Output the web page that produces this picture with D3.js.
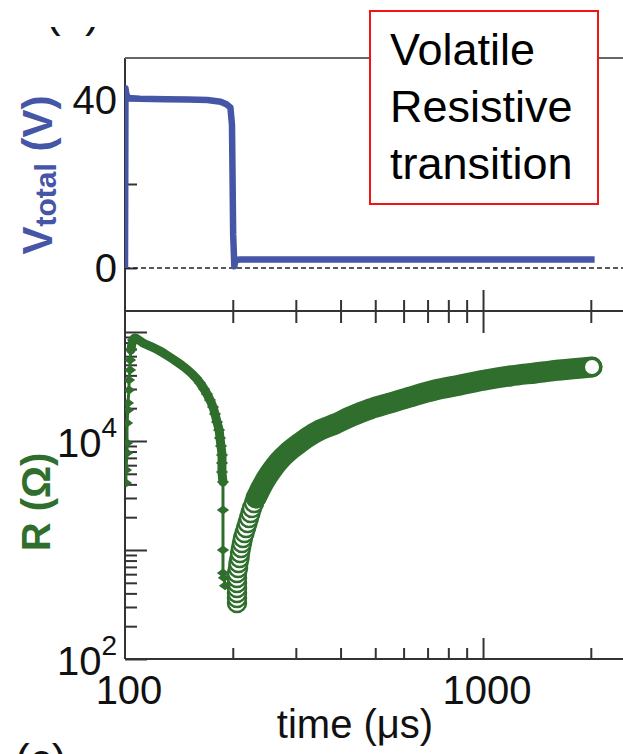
<!DOCTYPE html>
<html>
<head>
<meta charset="utf-8">
<script src="https://cdn.jsdelivr.net/npm/d3@7"></script>
<style>
body { margin: 0; background: #fff; }
svg { display: block; }
text { font-family: "Liberation Sans", Arial, sans-serif; }
</style>
</head>
<body>
<svg></svg>
<script>
// top panel: applied voltage vs time (us)
var vTime = [100, 100.3, 100.8, 102, 110, 130, 150, 170, 185, 192, 197, 199, 200.5, 202, 203.5, 210, 300, 600, 1000, 1500, 2050]
var vVolt = [0, 42.8, 41.5, 40.5, 40.3, 40.2, 40.1, 40, 39.6, 39, 38.2, 34, 8, 0.4, 1.9, 2, 2, 2, 2, 2, 2]

// bottom panel: resistance while pulse is on (filled diamonds)
var decTime = [100.6, 100.6, 101.3, 101.3, 101.3, 101.9, 101.9, 102.6, 102.6, 103.3, 103.3, 103.9, 105.3, 106.6, 112.3, 119.0, 125.2, 131.9, 139.8, 146.2, 151.9, 157.9, 162.0, 166.2, 169.4, 172.7, 176.1, 178.4, 180.7, 183.1, 184.2, 185.4, 186.6, 186.6, 186.6, 187.8, 187.8, 187.8, 187.8, 189.0, 190.3]
var decR = [4119, 5419, 7761, 9587, 14630, 19250, 22320, 29370, 36270, 44810, 55360, 68370, 84470, 88100, 79300, 72870, 66930, 60220, 53060, 47740, 42950, 37840, 34060, 30000, 27000, 23780, 20500, 17690, 14940, 12620, 10660, 9000, 7440, 6282, 5195, 4206, 2328, 1000, 615, 555, 470]

// bottom panel: resistance recovery after the pulse (open circles)
var recTime = [205.5, 205.5, 205.5, 205.5, 205.5, 205.5, 205.5, 206.9, 207.5, 208.9, 209.6, 210.9, 212.2, 213.6, 215.7, 217.8, 219.9, 222.0, 224.2, 226.3, 229.3, 232.2, 236.0, 239.8, 247.6, 257.4, 269.3, 283.5, 302.3, 324.5, 350.5, 386.0, 425.1, 483.5, 549.9, 625.4, 734.5, 862.6, 1013, 1190, 1397, 1641, 2016]
var recR = [326.5, 362.7, 403.2, 448.2, 498.1, 553.5, 615.2, 683.8, 759.7, 844.5, 938.6, 1043, 1159, 1289, 1432, 1591, 1769, 1966, 2185, 2428, 2700, 3000, 3334, 3706, 4481, 5419, 6553, 7761, 9190, 10880, 12620, 14320, 16610, 19660, 22320, 25340, 29370, 32640, 36270, 39470, 42060, 44810, 47740]

var xMajor = [100, 1000]
var xMinor = [200, 300, 400, 500, 600, 700, 800, 900, 2000]
var vTicks = [0, 20, 40]
var vLabels = [0, 40]
var rMajor = [1e2, 1e3, 1e4, 1e5]
var rLabelExp = [2, 4]
var boxLines = ["Volatile", "Resistive", "transition"]

var blue = "#4656a6"
var green = "#2f6e2c"
var axisColor = "#333"

var dims = { width: 623, height: 754, left: 125, right: 625.5, top: 58, mid: 311, bottom: 659 }

var svg = d3.select("svg")
            .attr("width", dims.width)
            .attr("height", dims.height)

var x = d3.scaleLog().domain([100, 2500]).range([dims.left, dims.right])
var yV = d3.scaleLinear().domain([-10.24, 50]).range([dims.mid, dims.top])
var yR = d3.scaleLog().domain([100, 155800]).range([dims.bottom, dims.mid])

// clip for the plotting area
svg.append("clipPath").attr("id", "plotclip")
   .append("rect").attr("x", dims.left).attr("y", dims.top)
   .attr("width", dims.right - dims.left).attr("height", dims.bottom - dims.top)

function tickStyle(g) {
    g.select(".domain").remove()
    g.selectAll("line").attr("stroke", axisColor).attr("stroke-width", 2)
}

// x ticks on the bottom axis (pointing up) and across the middle line
svg.append("g").attr("transform", "translate(0," + dims.bottom + ")")
   .call(d3.axisTop(x).tickValues(xMinor).tickSize(11).tickFormat("")).call(tickStyle)
svg.append("g").attr("transform", "translate(0," + dims.bottom + ")")
   .call(d3.axisTop(x).tickValues([1000]).tickSize(21).tickFormat("")).call(tickStyle)
svg.append("g").attr("transform", "translate(0," + dims.mid + ")")
   .call(d3.axisTop(x).tickValues(xMinor).tickSize(11).tickFormat("")).call(tickStyle)
svg.append("g").attr("transform", "translate(0," + dims.mid + ")")
   .call(d3.axisBottom(x).tickValues(xMinor).tickSize(12).tickFormat("")).call(tickStyle)
svg.append("g").attr("transform", "translate(0," + dims.mid + ")")
   .call(d3.axisTop(x).tickValues([1000]).tickSize(21).tickFormat("")).call(tickStyle)
svg.append("g").attr("transform", "translate(0," + dims.mid + ")")
   .call(d3.axisBottom(x).tickValues([1000]).tickSize(22).tickFormat("")).call(tickStyle)

// x tick labels
svg.selectAll(".xlab").data(xMajor).enter().append("text")
   .attr("x", d => x(d) + 4).attr("y", 704)
   .attr("text-anchor", "middle").attr("font-size", 40).attr("fill", "#111")
   .text(d => d)

svg.append("text").attr("x", 355).attr("y", 738)
   .attr("text-anchor", "middle").attr("font-size", 40).attr("fill", "#111")
   .text("time (\u03bcs)")

// left ticks, top panel
svg.append("g").attr("transform", "translate(" + dims.left + ",0)")
   .call(d3.axisRight(yV).tickValues(vTicks).tickSize(12).tickFormat("")).call(tickStyle)
svg.selectAll(".vlab").data(vLabels).enter().append("text")
   .attr("x", 117).attr("y", d => yV(d)).attr("dy", "0.36em")
   .attr("text-anchor", "end").attr("font-size", 40).attr("fill", "#111")
   .text(d => d)

// left ticks, bottom panel
var rMinor = yR.ticks().filter(v => Math.abs(Math.log10(v) - Math.round(Math.log10(v))) > 1e-6)
svg.append("g").attr("transform", "translate(" + dims.left + ",0)")
   .call(d3.axisRight(yR).tickValues(rMinor).tickSize(12).tickFormat("")).call(tickStyle)
svg.append("g").attr("transform", "translate(" + dims.left + ",0)")
   .call(d3.axisRight(yR).tickValues(rMajor).tickSize(22).tickFormat("")).call(tickStyle)

var rlab = svg.selectAll(".rlab").data(rLabelExp).enter().append("text")
   .attr("x", 117).attr("y", d => yR(Math.pow(10, d)) + 16)
   .attr("text-anchor", "end").attr("fill", "#111")
rlab.append("tspan").attr("font-size", 40).text("10")
rlab.append("tspan").attr("font-size", 28).attr("dy", -20).text(d => d)

// frame lines
svg.append("line").attr("x1", dims.left).attr("x2", dims.left)
   .attr("y1", dims.top).attr("y2", dims.bottom).attr("stroke", axisColor).attr("stroke-width", 2)
svg.append("line").attr("x1", dims.left).attr("x2", dims.right)
   .attr("y1", dims.top).attr("y2", dims.top).attr("stroke", "#666").attr("stroke-width", 2)
svg.append("line").attr("x1", dims.left).attr("x2", dims.right)
   .attr("y1", dims.mid).attr("y2", dims.mid).attr("stroke", axisColor).attr("stroke-width", 2)
svg.append("line").attr("x1", dims.left).attr("x2", dims.right)
   .attr("y1", dims.bottom).attr("y2", dims.bottom).attr("stroke", axisColor).attr("stroke-width", 2)

// zero line
svg.append("line").attr("x1", dims.left).attr("x2", dims.right)
   .attr("y1", yV(0)).attr("y2", yV(0))
   .attr("stroke", "#222").attr("stroke-width", 1.5).attr("stroke-dasharray", "5,3")

// voltage trace
var vLine = d3.line().x((d, i) => x(vTime[i])).y(d => yV(d))
svg.append("path").datum(vVolt)
   .attr("d", vLine).attr("fill", "none")
   .attr("stroke", blue).attr("stroke-width", 6.5).attr("stroke-linejoin", "round")
   .attr("clip-path", "url(#plotclip)")

// recovery circles (drawn first, band later on top)
var plot = svg.append("g").attr("clip-path", "url(#plotclip)")
var recIdx = d3.range(recR.length)
plot.selectAll(".rec").data(recIdx).enter().append("circle")
    .attr("cx", i => x(recTime[i])).attr("cy", i => yR(recR[i])).attr("r", 9)
    .attr("fill", "white").attr("stroke", green).attr("stroke-width", 2.5)

// decay: line + diamonds, the densely sampled part reads as a thick band
var decIdx = d3.range(decR.length)
var decLine = d3.line().x(i => x(decTime[i])).y(i => yR(decR[i]))
plot.append("path").datum(decIdx)
    .attr("d", decLine)
    .attr("fill", "none").attr("stroke", green).attr("stroke-width", 3)
plot.append("path").datum(decIdx.filter(i => i >= 11 && decR[i] >= 4200))
    .attr("d", decLine.curve(d3.curveCatmullRom))
    .attr("fill", "none").attr("stroke", green).attr("stroke-width", 9)
    .attr("stroke-linecap", "round").attr("stroke-linejoin", "round")
plot.selectAll(".dec").data(decIdx).enter().append("path")
    .attr("d", d3.symbol().type(d3.symbolSquare).size(49))
    .attr("transform", i => "translate(" + x(decTime[i]) + "," + yR(decR[i]) + ") scale(1.25,0.9) rotate(45)")
    .attr("fill", green)

// dense part of the recovery: overlapping circles read as a solid band
var bandIdx = recIdx.filter(i => recR[i] >= 3000)
plot.append("path").datum(bandIdx)
    .attr("d", d3.line().curve(d3.curveCatmullRom).x(i => x(recTime[i])).y(i => yR(recR[i])))
    .attr("fill", "none").attr("stroke", green).attr("stroke-width", 21)
    .attr("stroke-linecap", "round").attr("stroke-linejoin", "round")
var last = recR.length - 1
plot.append("circle")
    .attr("cx", x(recTime[last])).attr("cy", yR(recR[last])).attr("r", 8.5)
    .attr("fill", "white").attr("stroke", green).attr("stroke-width", 3)

// axis titles
var vt = svg.append("text").attr("transform", "translate(52,175) rotate(-90)")
   .attr("text-anchor", "middle").attr("fill", blue).attr("font-weight", "bold")
vt.append("tspan").attr("font-size", 42).text("V")
vt.append("tspan").attr("font-size", 30).attr("dy", 4).text("total")
vt.append("tspan").attr("font-size", 42).attr("dy", -4).text(" (V)")

svg.append("text").attr("transform", "translate(50,502) rotate(-90)")
   .attr("text-anchor", "middle").attr("fill", green).attr("font-weight", "bold")
   .attr("font-size", 40).text("R (\u03a9)")

// cropped panel labels from the neighbouring figures
svg.append("clipPath").attr("id", "topclip")
   .append("rect").attr("x", 0).attr("y", 27).attr("width", 200).attr("height", 20)
svg.append("text").attr("x", 46).attr("y", 27).attr("font-size", 44).attr("fill", "#111")
   .attr("clip-path", "url(#topclip)").text("(b)")
svg.append("text").attr("x", 15).attr("y", 775).attr("font-size", 44).attr("fill", "#111")
   .text("(c)")

// annotation box
svg.append("rect").attr("x", 370).attr("y", 11).attr("width", 228).attr("height", 193)
   .attr("fill", "white").attr("stroke", "#f01414").attr("stroke-width", 2)
svg.selectAll(".box").data(boxLines).enter().append("text")
   .attr("x", 390).attr("y", (d, i) => 65 + i * 57)
   .attr("font-family", "Lato, sans-serif").attr("font-size", 45).attr("fill", "#000")
   .text(d => d)
</script>
</body>
</html>
